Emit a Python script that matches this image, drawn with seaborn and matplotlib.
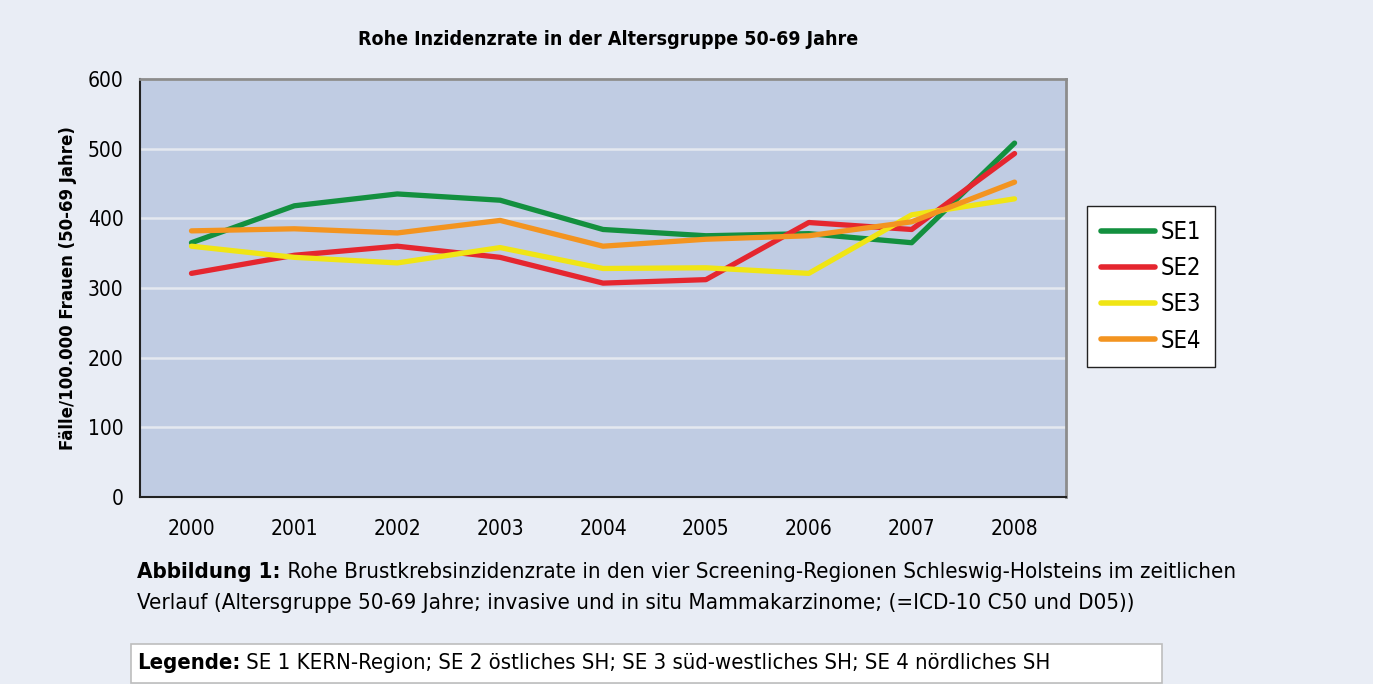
import matplotlib
matplotlib.use('Agg')
import matplotlib.pyplot as plt
import numpy as np
import pandas as pd
import seaborn as sns

years = [2000, 2001, 2002, 2003, 2004, 2005, 2006, 2007, 2008]
se1 = [365, 418, 435, 426, 384, 375, 378, 365, 508]
se2 = [321, 347, 360, 344, 307, 312, 394, 384, 493]
se3 = [360, 344, 336, 358, 328, 329, 321, 405, 428]
se4 = [382, 385, 379, 397, 360, 370, 375, 395, 452]
series = ['SE1', 'SE2', 'SE3', 'SE4']
colors = ['#13903F', '#E5262F', '#F0E514', '#F39420']

title = 'Rohe Inzidenzrate in der Altersgruppe 50-69 Jahre'
ylabel = 'Fälle/100.000 Frauen (50-69 Jahre)'
caption_bold = 'Abbildung 1:'
caption_1 = ' Rohe Brustkrebsinzidenzrate in den vier Screening-Regionen Schleswig-Holsteins im zeitlichen'
caption_2 = 'Verlauf (Altersgruppe 50-69 Jahre; invasive und in situ Mammakarzinome; (=ICD-10 C50 und D05))'
legend_bold = 'Legende:'
legend_text = ' SE 1 KERN-Region; SE 2 östliches SH; SE 3 süd-westliches SH; SE 4 nördliches SH'

df = pd.DataFrame({'Jahr': years * 4,
                   'Wert': se1 + se2 + se3 + se4,
                   'Serie': np.repeat(series, len(years))})

sns.set_style('white')
plt.rcParams['font.family'] = ['DejaVu Sans']
plt.rcParams['font.stretch'] = 'condensed'
plt.rcParams['text.color'] = 'black'
plt.rcParams['xtick.color'] = 'black'
plt.rcParams['ytick.color'] = 'black'
plt.rcParams['axes.labelcolor'] = 'black'

bg = '#E9EDF5'
fig = plt.figure(figsize=(13.73, 6.84), dpi=100, facecolor=bg)
ax = fig.add_axes([0.1020, 0.2734, 0.6744, 0.6111])
ax.set_facecolor('#C0CCE3')

sns.lineplot(data=df, x='Jahr', y='Wert', hue='Serie', palette=colors,
             linewidth=3.8, ax=ax, legend=True)

ax.set_xlim(1999.5, 2008.5)
ax.set_ylim(0, 600)
ax.set_yticks(range(0, 601, 100))
ax.set_xticks(years)
ax.set_xticklabels([str(y) for y in years])
ax.set_xticks(np.arange(1999.5, 2009, 1), minor=True)
ax.tick_params(axis='x', which='major', length=0, pad=16, labelsize=15)
ax.tick_params(axis='x', which='minor', length=6, width=1.2, color='#222222', direction='out')
ax.tick_params(axis='y', length=6, width=1.2, color='#222222', direction='out', labelsize=15, pad=6)
ax.yaxis.grid(True, color='#E4E8F0', linewidth=1.8)
ax.set_axisbelow(True)
ax.set_xlabel('')
ax.set_ylabel(ylabel, fontsize=13.3, fontweight='bold', labelpad=8)

for side in ['left', 'bottom']:
    ax.spines[side].set_color('#222222')
    ax.spines[side].set_linewidth(1.5)
for side in ['top', 'right']:
    ax.spines[side].set_visible(True)
    ax.spines[side].set_color('#8C8C8C')
    ax.spines[side].set_linewidth(2)

leg = ax.legend(loc='upper left', bbox_to_anchor=(1.0227, 0.697), frameon=True,
                fontsize=17, handlelength=2.3, handletextpad=0.2, labelspacing=0.52,
                borderpad=0.6, borderaxespad=0, fancybox=False, framealpha=1)
leg.get_frame().set_edgecolor('#222222')
leg.get_frame().set_linewidth(1)
for line in leg.get_lines():
    line.set_linewidth(4)

fig.text(0.4428, 0.942, title, ha='center', va='center', fontsize=14, fontweight='bold')

renderer = fig.canvas.get_renderer()

def mixed(x, y, bold, normal, size):
    t = fig.text(x, y, bold, fontsize=size, fontweight='bold', va='center')
    w = t.get_window_extent(renderer=renderer).width / fig.bbox.width
    fig.text(x + w, y, normal, fontsize=size, va='center')

mixed(0.0998, 0.1637, caption_bold, caption_1, 16.0)
fig.text(0.0998, 0.1184, caption_2, fontsize=16.0, va='center')

box = plt.Rectangle((0.0954, 0.002), 0.751, 0.057, transform=fig.transFigure,
                    facecolor='white', edgecolor='#BDBDBD', linewidth=1.2)
fig.patches.append(box)
mixed(0.0998, 0.0307, legend_bold, legend_text, 15.8)

fig.savefig('out.png', dpi=100, facecolor=bg)
